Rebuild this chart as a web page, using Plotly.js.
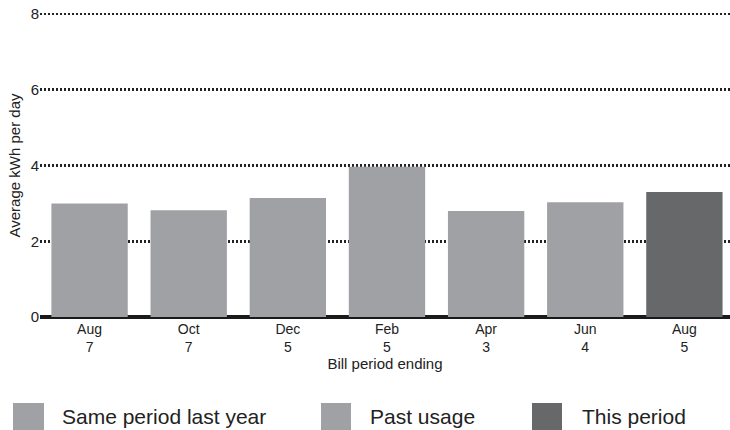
<!DOCTYPE html>
<html>
<head>
<meta charset="utf-8">
<script src="https://cdn.plot.ly/plotly-3.0.1.min.js"></script>
<style>html,body{margin:0;padding:0;background:#fff;}#chart{width:730px;height:430px;}</style>
</head>
<body>
<div id="chart"></div>
<script>
// Data
const categories = ["Aug<br>7", "Oct<br>7", "Dec<br>5", "Feb<br>5", "Apr<br>3", "Jun<br>4", "Aug<br>5"];
const sameLastYearCats = ["Aug<br>7"];
const sameLastYearVals = [3.0];
const pastUsageCats = ["Oct<br>7", "Dec<br>5", "Feb<br>5", "Apr<br>3", "Jun<br>4"];
const pastUsageVals = [2.82, 3.14, 3.97, 2.80, 3.03];
const thisPeriodCats = ["Aug<br>5"];
const thisPeriodVals = [3.30];
const yTicks = [0, 2, 4, 6, 8];
const legendNames = ["Same period last year", "Past usage", "This period"];
const seriesColors = ["#a0a1a4", "#a0a1a4", "#67686a"];

const W = 730, H = 430, mL = 40, mR = 0, mT = 12, mB = 111;
const pw = W - mL - mR, ph = H - mT - mB;
const px2x = p => (p - mL) / pw;
const px2y = p => (H - mB - p) / ph;

const font = "Liberation Sans, Arial, Helvetica, sans-serif";

const traces = [
  {type: "bar", name: legendNames[0], x: sameLastYearCats, y: sameLastYearVals, marker: {color: seriesColors[0]}, showlegend: false, hoverinfo: "skip"},
  {type: "bar", name: legendNames[1], x: pastUsageCats, y: pastUsageVals, marker: {color: seriesColors[1]}, showlegend: false, hoverinfo: "skip"},
  {type: "bar", name: legendNames[2], x: thisPeriodCats, y: thisPeriodVals, marker: {color: seriesColors[2]}, showlegend: false, hoverinfo: "skip"}
];

// custom legend
const legendBoxes = [[13, 44, 62], [321, 351, 370], [532, 562, 582]];
const shapes = [];
const annotations = [];
legendBoxes.forEach((b, i) => {
  shapes.push({type: "rect", xref: "paper", yref: "paper", x0: px2x(b[0]), x1: px2x(b[1]), y0: px2y(403), y1: px2y(431), fillcolor: seriesColors[i], line: {width: 0}, layer: "above"});
  annotations.push({xref: "paper", yref: "paper", x: px2x(b[2] - 2), y: px2y(416), xanchor: "left", yanchor: "middle", showarrow: false, text: legendNames[i], font: {family: font, size: 21, color: "#222"}});
});

const layout = {
  width: W, height: H,
  margin: {l: mL, r: mR, t: mT, b: mB, pad: 0},
  paper_bgcolor: "#fff", plot_bgcolor: "#fff",
  barmode: "overlay",
  bargap: 0.23,
  showlegend: false,
  font: {family: font, size: 15, color: "#222"},
  xaxis: {
    type: "category",
    categoryorder: "array", categoryarray: categories,
    range: [-0.5, 6.46],
    showgrid: false, zeroline: false, showline: false,
    ticks: "", tickfont: {family: font, size: 14, color: "#222"},
    title: {text: "Bill period ending", font: {family: font, size: 15, color: "#222"}, standoff: 4},
    automargin: false, fixedrange: true
  },
  yaxis: {
    range: [-0.05, 8.05], tickvals: yTicks, ticktext: yTicks.map(String),
    showgrid: true, gridcolor: "#222", gridwidth: 2.5, griddash: "2px,2px",
    zeroline: true, zerolinecolor: "#1a1a1a", zerolinewidth: 4,
    showline: false,
    ticks: "", tickfont: {family: font, size: 15, color: "#222"},
    title: {text: "Average kWh per day", font: {family: font, size: 15, color: "#222"}, standoff: 6},
    automargin: false, fixedrange: true
  },
  shapes: shapes,
  annotations: annotations
};

Plotly.newPlot("chart", traces, layout, {displayModeBar: false, staticPlot: true});
</script>
</body>
</html>
